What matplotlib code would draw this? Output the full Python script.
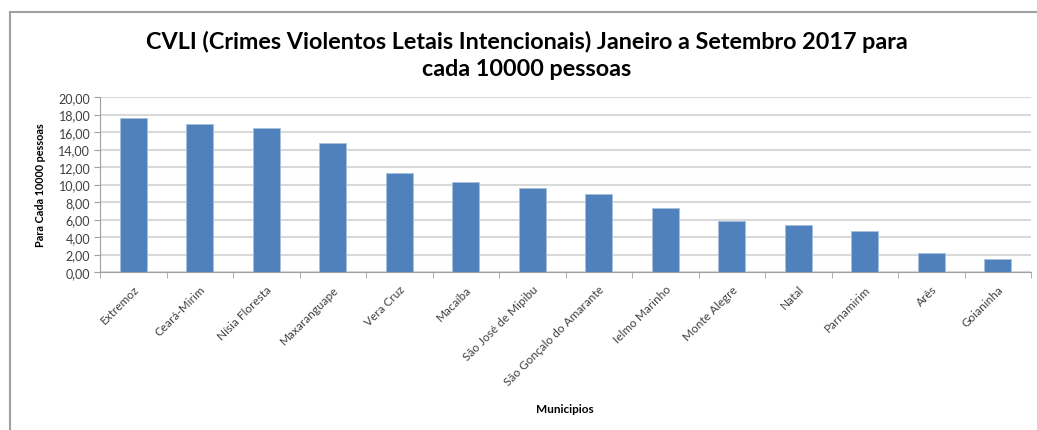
import matplotlib
matplotlib.use('Agg')
import matplotlib.pyplot as plt
from matplotlib.ticker import FuncFormatter, FixedLocator
from matplotlib.lines import Line2D

plt.rcParams['font.family'] = ['Lato', 'DejaVu Sans']

# municipios e valores (CVLI por 10000 pessoas)
municipios = ['Extremoz', 'Ceará-Mirim', 'Nísia Floresta', 'Maxaranguape',
              'Vera Cruz', 'Macaíba', 'São José de Mipibu',
              'São Gonçalo do Amarante', 'Ielmo Marinho', 'Monte Alegre',
              'Natal', 'Parnamirim', 'Arês', 'Goianinha']
valores = [17.64, 16.88, 16.50, 14.78, 11.35, 10.25, 9.56,
           8.95, 7.35, 5.79, 5.37, 4.69, 2.13, 1.52]
y_ticks = [0, 2, 4, 6, 8, 10, 12, 14, 16, 18, 20]

fig = plt.figure(figsize=(10.37, 4.31), dpi=100)
ax = fig.add_axes([100 / 1037, 1 - 273 / 431, 931 / 1037, 175 / 431])

x = list(range(len(municipios)))
ax.bar(x, valores, width=0.4, color='#4f81bd', edgecolor='#a7c0de',
       linewidth=0.6, zorder=3)

ax.set_xlim(-0.5, len(municipios) - 0.5)
ax.set_ylim(0, 20)
ax.set_yticks(y_ticks)
ax.yaxis.set_major_formatter(FuncFormatter(lambda v, p: '{:.2f}'.format(v).replace('.', ',')))
ax.grid(axis='y', color='#d9d9d9', linewidth=1.5, zorder=0)

ax.set_xticks(x)
ax.set_xticklabels(municipios, rotation=45, ha='right', rotation_mode='anchor',
                   fontsize=8.5, color='#404040')
ax.tick_params(axis='x', which='major', length=0, pad=8)
ax.xaxis.set_minor_locator(FixedLocator([i - 0.5 for i in range(len(municipios) + 1)]))
ax.tick_params(axis='x', which='minor', length=4, color='#a0a0a0')
ax.tick_params(axis='y', length=4, color='#a0a0a0', labelsize=9,
               labelcolor='#404040', pad=3)

for s in ['top', 'right']:
    ax.spines[s].set_visible(False)
ax.spines['left'].set_color('#a0a0a0')
ax.spines['bottom'].set_color('#a0a0a0')

ax.set_ylabel('Para Cada 10000 pessoas', fontsize=7.8, fontweight='bold', labelpad=9)
fig.text(565 / 1037, 1 - 410 / 431, 'Municipios', fontsize=8.5, fontweight='bold',
         ha='center', va='center')

fig.text(527 / 1037, 1 - 42 / 431, 'CVLI (Crimes Violentos Letais Intencionais) Janeiro a Setembro 2017 para',
         fontsize=16.8, fontweight='bold', ha='center', va='center')
fig.text(527 / 1037, 1 - 69 / 431, 'cada 10000 pessoas',
         fontsize=16.8, fontweight='bold', ha='center', va='center')

# moldura do grafico
fig.add_artist(Line2D([10 / 1037, 10 / 1037], [0, 1 - 13 / 431], color='#a0a0a0', linewidth=1.5))
fig.add_artist(Line2D([10 / 1037, 1], [1 - 13 / 431, 1 - 13 / 431], color='#a0a0a0', linewidth=1.5))

fig.savefig('out.png', dpi=100)
